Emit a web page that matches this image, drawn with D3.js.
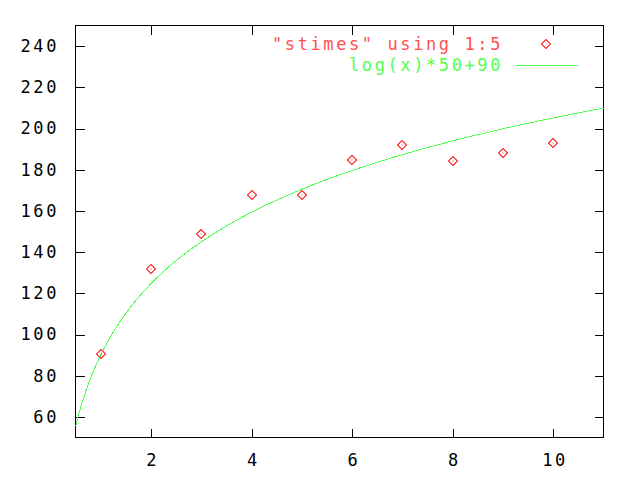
<!DOCTYPE html>
<html>
<head>
<meta charset="utf-8">
<script src="https://cdn.jsdelivr.net/npm/d3@7"></script>
<style>
  html, body { margin: 0; padding: 0; background: #fff; }
  svg { display: block; }
  .lbl { font-family: "DejaVu Sans Mono", monospace; font-size: 17px; letter-spacing: 2.6px; }
</style>
</head>
<body>
<svg id="chart" width="640" height="480"></svg>
<script>
// ---- data ----
const xValues = [1, 2, 3, 4, 5, 6, 7, 8, 9, 10];
const stimes  = [90.6, 131.9, 148.9, 167.8, 167.8, 184.8, 192.1, 184.3, 187.9, 193.1];
const xTicks = [2, 4, 6, 8, 10];
const yTicks = [60, 80, 100, 120, 140, 160, 180, 200, 220, 240];
const xDomain = [0.5, 11];
const yDomain = [50, 250];
const fnScale = 50, fnOffset = 90, fnSamples = 100;
const seriesLabels = ['"stimes" using 1:5', 'log(x)*50+90'];

// ---- layout ----
const W = 640, H = 480;
const L = 75, R = 603, T = 25, B = 437;
const red = "#ff5050", green = "#50ff50";

const svg = d3.select("#chart");
svg.append("rect").attr("width", W).attr("height", H).attr("fill", "#fff");

const x = d3.scaleLinear().domain(xDomain).range([L + 0.5, R + 0.5]);
const y = d3.scaleLinear().domain(yDomain).range([B + 0.5, T + 0.5]);

function styleAxis(g, showText) {
  g.select(".domain").remove();
  g.selectAll(".tick line").attr("stroke", "#000").attr("shape-rendering", "crispEdges");
  if (showText) {
    g.selectAll(".tick text").attr("class", "lbl").attr("fill", "#000");
  } else {
    g.selectAll(".tick text").remove();
  }
}

// axes (ticks inward, mirrored)
svg.append("g").attr("transform", `translate(0,${B + 0.5})`)
  .call(d3.axisBottom(x).tickValues(xTicks).tickSize(-9).tickPadding(16).tickFormat(d3.format("d")))
  .call(g => styleAxis(g, true))
  .call(g => g.selectAll(".tick text").attr("dx", "1.3"));
svg.append("g").attr("transform", `translate(0,${T + 0.5})`)
  .call(d3.axisTop(x).tickValues(xTicks).tickSize(-9))
  .call(g => styleAxis(g, false));
svg.append("g").attr("transform", `translate(${L + 0.5},0)`)
  .call(d3.axisLeft(y).tickValues(yTicks).tickSize(-9).tickPadding(16.5).tickFormat(d3.format("d")))
  .call(g => styleAxis(g, true));
svg.append("g").attr("transform", `translate(${R + 0.5},0)`)
  .call(d3.axisRight(y).tickValues(yTicks).tickSize(-9))
  .call(g => styleAxis(g, false));

// frame
svg.append("rect")
  .attr("x", L + 0.5).attr("y", T + 0.5)
  .attr("width", R - L).attr("height", B - T)
  .attr("fill", "none").attr("stroke", "#000").attr("stroke-width", 1)
  .attr("shape-rendering", "crispEdges");

// function curve
const samples = d3.range(fnSamples).map(i => xDomain[0] + i * (xDomain[1] - xDomain[0]) / (fnSamples - 1));
const curveData = samples.map(v => [v, Math.log(v) * fnScale + fnOffset]);
svg.append("path")
  .datum(curveData)
  .attr("fill", "none").attr("stroke", green).attr("stroke-width", 1)
  .attr("shape-rendering", "crispEdges")
  .attr("d", d3.line().x(d => x(d[0])).y(d => y(d[1])));

// diamond marker
function diamond(g, cx, cy) {
  const s = 4.5;
  g.append("path")
    .attr("d", `M${cx},${cy - s}L${cx + s},${cy}L${cx},${cy + s}L${cx - s},${cy}Z`)
    .attr("fill", "none").attr("stroke", red).attr("stroke-width", 1)
    .attr("shape-rendering", "crispEdges");
  g.append("rect").attr("x", cx - 0.5).attr("y", cy - 0.5).attr("width", 1).attr("height", 1).attr("fill", red);
}
const pts = svg.append("g");
xValues.forEach((v, i) => diamond(pts, Math.round(x(v)), Math.round(y(stimes[i]))));

// legend
const legendRight = 503;
svg.append("text").attr("class", "lbl").attr("x", legendRight).attr("y", 44)
  .attr("dy", "0.35em").attr("text-anchor", "end").attr("fill", red).text(seriesLabels[0]);
diamond(svg.append("g"), 546, 44);
svg.append("text").attr("class", "lbl").attr("x", legendRight).attr("y", 65)
  .attr("dy", "0.35em").attr("text-anchor", "end").attr("fill", green).text(seriesLabels[1]);
svg.append("line").attr("x1", 516).attr("x2", 578).attr("y1", 65.5).attr("y2", 65.5)
  .attr("stroke", green).attr("stroke-width", 1).attr("shape-rendering", "crispEdges");
</script>
</body>
</html>
